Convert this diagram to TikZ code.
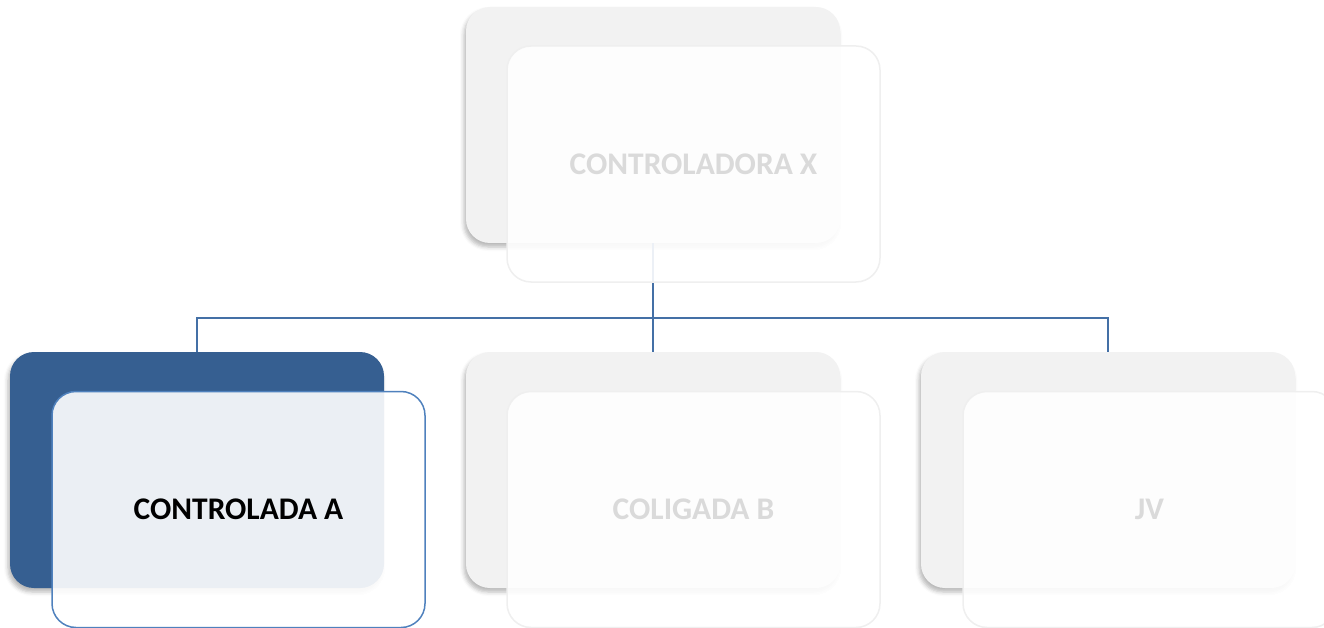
\documentclass[tikz,border=0pt]{standalone}
\usepackage{fontspec}
\setmainfont{Carlito}
\usetikzlibrary{shadows.blur}
\definecolor{backblue}{HTML}{365F91}
\definecolor{frontblue}{HTML}{4F81BD}
\definecolor{connblue}{HTML}{4470A6}
\definecolor{backgrey}{HTML}{F2F2F2}
\definecolor{frontgrey}{HTML}{EFEFEF}
\definecolor{textgrey}{HTML}{DADADA}
\begin{document}
\begin{tikzpicture}[x=1pt,y=-1pt,
  backbox/.style={rectangle, rounded corners=24pt, minimum width=374pt, minimum height=236pt,
    inner sep=0pt, blur shadow={shadow xshift=-2pt, shadow yshift=-4pt, shadow blur radius=4pt, shadow opacity=28}},
  frontbox/.style={rectangle, rounded corners=24pt, minimum width=373pt, minimum height=236pt,
    inner sep=0pt, fill=white, fill opacity=0.9, text opacity=1, draw opacity=1, line width=1.5pt,
    font=\fontsize{31.5}{36}\selectfont\bfseries},
  conn/.style={draw=connblue, line width=1.8pt}]
\useasboundingbox (0,0) rectangle (1324,628);
% back boxes
\node[backbox, fill=backgrey] (xb) at (653,125) {};
\node[backbox, fill=backblue] (ab) at (197,470) {};
\node[backbox, fill=backgrey] (bb) at (653,470) {};
\node[backbox, fill=backgrey] (jb) at (1108,470) {};
% connectors
\coordinate (bus) at (652,318);
\draw[conn] (xb.south) -- (xb.south |- bus) -| (ab.north);
\draw[conn] (xb.south |- bus) -| (jb.north);
\draw[conn] (xb.south |- bus) -- (bb.north);
% front boxes
\node[frontbox, draw=frontgrey, text=textgrey] (xf) at (693.5,164) {CONTROLADORA X};
\node[frontbox, draw=frontblue, text=black] (af) at (238.5,509.5) {CONTROLADA A};
\node[frontbox, draw=frontgrey, text=textgrey] (bf) at (693.5,509.5) {COLIGADA B};
\node[frontbox, draw=frontgrey, text=textgrey] (jf) at (1149.5,509.5) {JV};
\end{tikzpicture}
\end{document}
